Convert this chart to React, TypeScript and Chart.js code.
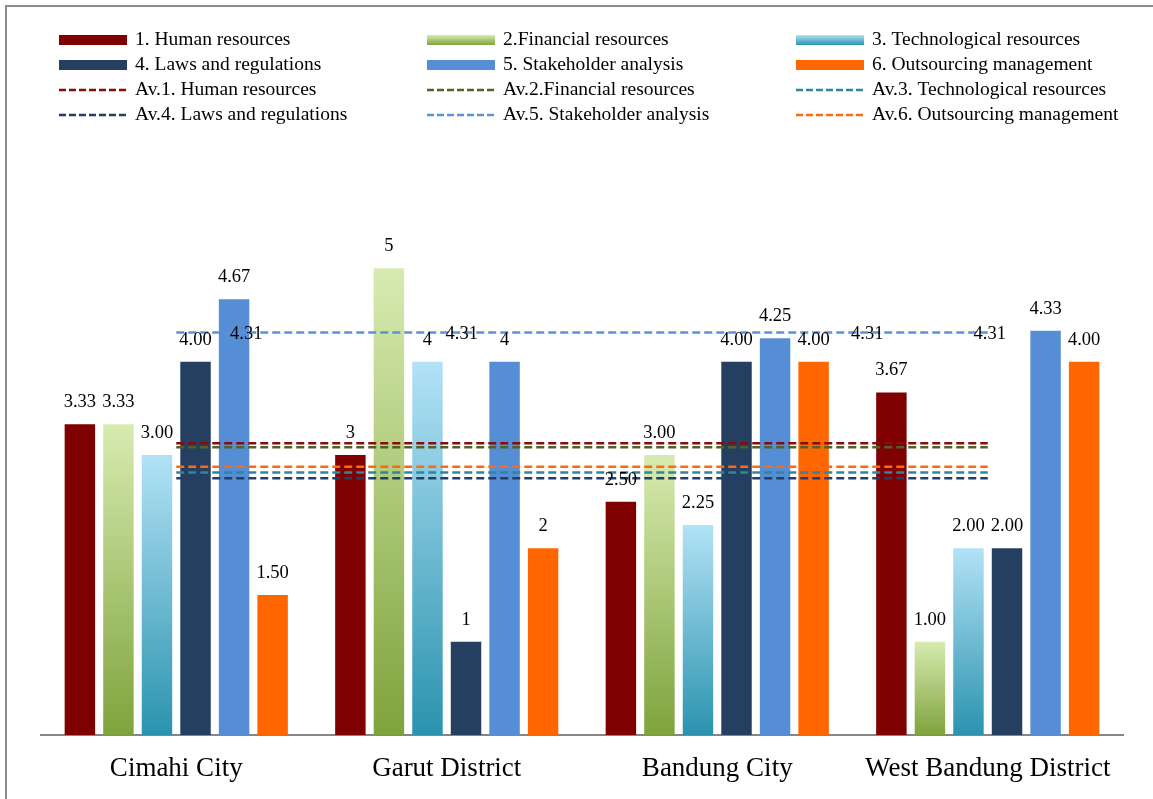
import React, { useEffect, useRef } from 'react';
import { Chart, registerables } from 'chart.js';

Chart.register(...registerables);

const FONT = "'Liberation Serif', 'Times New Roman', serif";

const categories = ['Cimahi City', 'Garut District', 'Bandung City', 'West Bandung District'];

const barNames = [
  '1. Human resources',
  '2.Financial resources',
  '3. Technological resources',
  '4. Laws and regulations',
  '5. Stakeholder analysis',
  '6. Outsourcing management',
];
const humanResources = [3.33, 3, 2.5, 3.67];
const financialResources = [3.33, 5, 3, 1];
const technologicalResources = [3, 4, 2.25, 2];
const lawsAndRegulations = [4, 1, 4, 2];
const stakeholderAnalysis = [4.67, 4, 4.25, 4.33];
const outsourcingManagement = [1.5, 2, 4, 4];

const humanLabels = ['3.33', '3', '2.50', '3.67'];
const financialLabels = ['3.33', '5', '3.00', '1.00'];
const technologicalLabels = ['3.00', '4', '2.25', '2.00'];
const lawsLabels = ['4.00', '1', '4.00', '2.00'];
const stakeholderLabels = ['4.67', '4', '4.25', '4.33'];
const outsourcingLabels = ['1.50', '2', '4.00', '4.00'];

const averageNames = [
  'Av.1. Human resources',
  'Av.2.Financial resources',
  'Av.3. Technological resources',
  'Av.4. Laws and regulations',
  'Av.5. Stakeholder analysis',
  'Av.6. Outsourcing management',
];
const avHuman = [3.125, 3.125, 3.125, 3.125];
const avFinancial = [3.0825, 3.0825, 3.0825, 3.0825];
const avTechnological = [2.8125, 2.8125, 2.8125, 2.8125];
const avLaws = [2.75, 2.75, 2.75, 2.75];
const avStakeholder = [4.3125, 4.3125, 4.3125, 4.3125];
const avOutsourcing = [2.875, 2.875, 2.875, 2.875];
const avStakeholderLabels = ['4.31', '4.31', '4.31', '4.31'];

const barColors = ['#7f0000', null, null, '#253f60', '#558ed5', '#ff6600'];
const gradientStops: Record<number, [string, string]> = {
  1: ['#d7ebb0', '#7fa33c'],
  2: ['#b2e2f6', '#2b93ae'],
};
const lineColors = ['#8b0a0a', '#4f6228', '#31859c', '#243f63', '#5b93d8', '#ff6a10'];

const barValues = [
  humanResources,
  financialResources,
  technologicalResources,
  lawsAndRegulations,
  stakeholderAnalysis,
  outsourcingManagement,
];
const barLabels = [humanLabels, financialLabels, technologicalLabels, lawsLabels, stakeholderLabels, outsourcingLabels];
const avValues = [avHuman, avFinancial, avTechnological, avLaws, avStakeholder, avOutsourcing];

function makeGradient(c: CanvasRenderingContext2D, top: number, bottom: number, idx: number) {
  const g = c.createLinearGradient(0, top, 0, bottom);
  g.addColorStop(0, gradientStops[idx][0]);
  g.addColorStop(1, gradientStops[idx][1]);
  return g;
}

const framePlugin = {
  id: 'frame',
  beforeDraw(chart: any) {
    const c = chart.ctx;
    c.save();
    c.fillStyle = '#ffffff';
    c.fillRect(0, 0, chart.width, chart.height);
    c.strokeStyle = '#8c8c8c';
    c.lineWidth = 2;
    c.beginPath();
    c.moveTo(6, chart.height);
    c.lineTo(6, 6);
    c.lineTo(chart.width, 6);
    c.stroke();
    c.restore();
  },
};

const legendPlugin = {
  id: 'gridLegend',
  afterDraw(chart: any) {
    const c = chart.ctx;
    const colX = [59, 427, 796];
    const rowY = [40, 65, 90, 115];
    const names = [...barNames, ...averageNames];
    c.save();
    c.font = `19.5px ${FONT}`;
    c.textBaseline = 'middle';
    c.textAlign = 'left';
    names.forEach((name, i) => {
      const x = colX[i % 3];
      const y = rowY[Math.floor(i / 3)];
      if (i < 6) {
        if (gradientStops[i]) c.fillStyle = makeGradient(c, y - 5, y + 5, i);
        else c.fillStyle = barColors[i] as string;
        c.fillRect(x, y - 5, 68, 10);
      } else {
        c.strokeStyle = lineColors[i - 6];
        c.lineWidth = 2.5;
        c.setLineDash([7, 3]);
        c.beginPath();
        c.moveTo(x, y);
        c.lineTo(x + 68, y);
        c.stroke();
        c.setLineDash([]);
      }
      c.fillStyle = '#000';
      c.fillText(name, x + 76, y);
    });
    c.restore();
  },
};

const labelPlugin = {
  id: 'valueLabels',
  afterDatasetsDraw(chart: any) {
    const c = chart.ctx;
    c.save();
    c.font = `18.5px ${FONT}`;
    c.fillStyle = '#000';
    c.textAlign = 'center';
    c.textBaseline = 'alphabetic';
    for (let i = 0; i < 6; i++) {
      const meta = chart.getDatasetMeta(i);
      meta.data.forEach((el: any, j: number) => {
        c.fillText(barLabels[i][j], el.x, el.y - 17);
      });
    }
    const offsets = [70, 15, 150, 2];
    const avMeta = chart.getDatasetMeta(10);
    c.textBaseline = 'middle';
    avMeta.data.forEach((el: any, j: number) => {
      c.fillText(avStakeholderLabels[j], el.x + offsets[j], el.y + 2);
    });
    c.restore();
  },
};

export default function App() {
  const ref = useRef<HTMLCanvasElement>(null);
  useEffect(() => {
    if (!ref.current) return;
    const barDatasets = barValues.map((vals, i) => ({
      type: 'bar' as const,
      label: barNames[i],
      data: vals,
      order: 1,
      barPercentage: 0.79,
      categoryPercentage: 0.855,
      backgroundColor: (ctx: any) => {
        if (!gradientStops[i]) return barColors[i];
        if (ctx.type !== 'data' || !ctx.chart.scales.y) return gradientStops[i][1];
        const ys = ctx.chart.scales.y;
        const top = ys.getPixelForValue(ctx.parsed ? ctx.parsed.y : vals[ctx.dataIndex]);
        const bottom = ys.getPixelForValue(0);
        if (!isFinite(top) || !isFinite(bottom) || top === bottom) return gradientStops[i][1];
        return makeGradient(ctx.chart.ctx, top, bottom, i);
      },
    }));
    const lineDatasets = avValues.map((vals, i) => ({
      type: 'line' as const,
      label: averageNames[i],
      data: vals,
      order: 0,
      borderColor: lineColors[i],
      borderWidth: 2.5,
      borderDash: [8, 4],
      pointRadius: 0,
      fill: false,
    }));
    const chart = new Chart(ref.current, {
      type: 'bar',
      data: { labels: categories, datasets: [...barDatasets, ...lineDatasets] as any },
      options: {
        responsive: false,
        animation: false,
        devicePixelRatio: 1,
        layout: { padding: { left: 41, right: 30, top: 175, bottom: 0 } },
        plugins: { legend: { display: false }, tooltip: { enabled: false }, title: { display: false } },
        scales: {
          x: {
            grid: { display: false, drawTicks: false },
            border: { display: true, color: '#868686', width: 2 },
            ticks: { font: { family: FONT, size: 27 }, color: '#000', padding: 18, maxRotation: 0, autoSkip: false },
            afterFit: (s: any) => {
              s.height = 64;
            },
          },
          y: { display: false, min: 0, max: 6 },
        },
      },
      plugins: [framePlugin, legendPlugin, labelPlugin],
    });
    return () => chart.destroy();
  }, []);
  return (
    <div style={{ position: 'absolute', left: 0, top: 0, width: 1153, height: 799 }}>
      <canvas ref={ref} width={1153} height={799} style={{ display: 'block' }} />
    </div>
  );
}
